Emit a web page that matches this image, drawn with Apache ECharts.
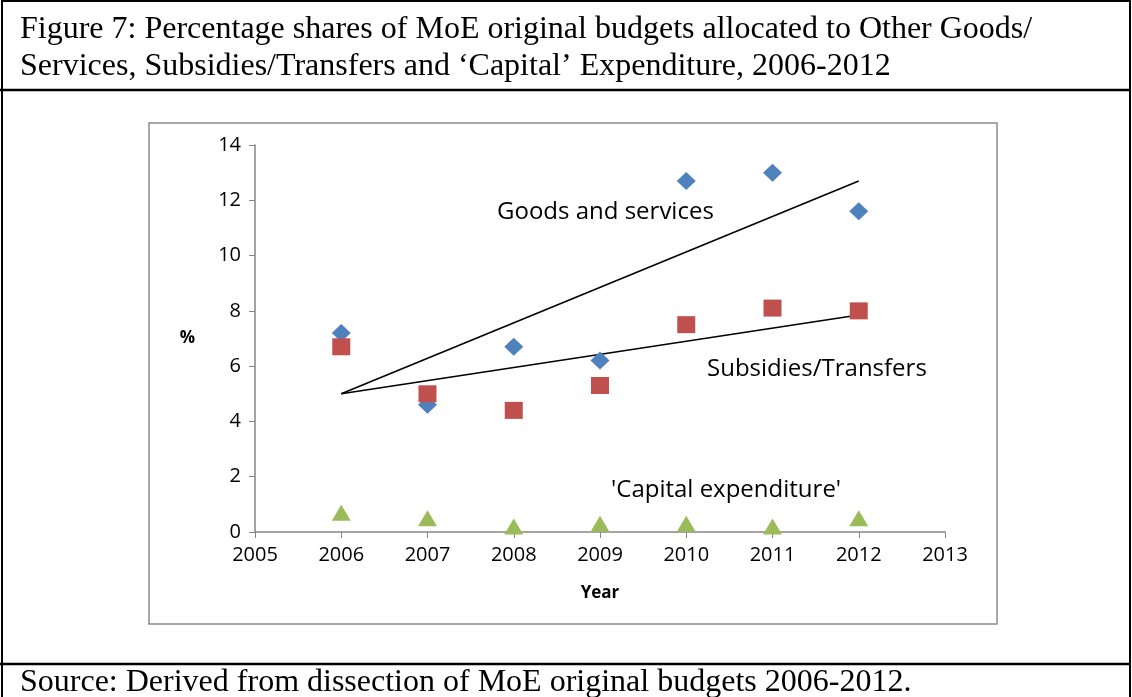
<!DOCTYPE html>
<html>
<head>
<meta charset="utf-8">
<script src="https://cdn.jsdelivr.net/npm/echarts@6/dist/echarts.min.js"></script>
<style>
html,body{margin:0;padding:0;background:#fff;}
#chart{width:1132px;height:697px;}
</style>
</head>
<body>
<div id="chart"></div>
<script>
// ---- data ----
const years = [2006, 2007, 2008, 2009, 2010, 2011, 2012];
const goodsServices = [7.2, 4.6, 6.7, 6.2, 12.7, 13.0, 11.6];
const subsidiesTransfers = [6.7, 5.0, 4.4, 5.3, 7.5, 8.1, 8.0];
const capitalExpenditure = [0.7, 0.5, 0.2, 0.3, 0.3, 0.2, 0.5];
// trend line end points as drawn in the reference
const goodsTrend = [[2006, 5.0], [2012, 12.7]];
const subsTrend = [[2006, 5.0], [2012, 7.85]];
const xTicks = [2005, 2006, 2007, 2008, 2009, 2010, 2011, 2012, 2013];
const yTicks = [0, 2, 4, 6, 8, 10, 12, 14];
const titleLines = [
  "Figure 7: Percentage shares of MoE original budgets allocated to Other Goods/",
  "Services, Subsidies/Transfers and \u2018Capital\u2019 Expenditure, 2006-2012"
];
const sourceText = "Source: Derived from dissection of MoE original budgets 2006-2012.";
const seriesLabels = ["Goods and services", "Subsidies/Transfers", "'Capital expenditure'"];

function pairs(vals) { return years.map((y, i) => [y, vals[i]]); }

const chart = echarts.init(document.getElementById('chart'), null, {renderer: 'canvas'});
const sansFont = '"Open Sans", sans-serif';
const serifFont = '"Liberation Serif", "Times New Roman", serif';

const option = {
  animation: false,
  backgroundColor: '#fff',
  grid: {left: 255, top: 145, width: 690, height: 387, containLabel: false},
  xAxis: {
    type: 'value', min: xTicks[0], max: xTicks[xTicks.length - 1], interval: 1,
    name: 'Year', nameLocation: 'middle', nameGap: 53,
    nameTextStyle: {fontFamily: sansFont, fontSize: 17, fontWeight: 'bold', color: '#000'},
    axisLine: {lineStyle: {color: '#868686', width: 1.5}},
    axisTick: {show: true, length: 6, lineStyle: {color: '#868686'}},
    axisLabel: {fontFamily: sansFont, fontSize: 20, color: '#000', margin: 13,
      formatter: v => String(v)},
    splitLine: {show: false}
  },
  yAxis: {
    type: 'value', min: yTicks[0], max: yTicks[yTicks.length - 1], interval: 2,
    name: '%', nameLocation: 'middle', nameGap: 60, nameRotate: 0,
    nameTextStyle: {fontFamily: sansFont, fontSize: 17, fontWeight: 'bold', color: '#000', padding: [6, 0, 0, 0]},
    axisLine: {show: true, lineStyle: {color: '#868686', width: 1.5}},
    axisTick: {show: true, length: 6, lineStyle: {color: '#868686'}},
    axisLabel: {fontFamily: sansFont, fontSize: 20, color: '#000', margin: 14},
    splitLine: {show: false}
  },
  series: [
    {type: 'line', data: goodsTrend, symbol: 'none', lineStyle: {color: '#000', width: 1.6}, z: 1, silent: true},
    {type: 'line', data: subsTrend, symbol: 'none', lineStyle: {color: '#000', width: 1.6}, z: 1, silent: true},
    {name: seriesLabels[0], type: 'scatter', data: pairs(goodsServices), symbol: 'diamond', symbolSize: [19, 18],
      itemStyle: {color: '#4F81BD', opacity: 1}, z: 3},
    {name: seriesLabels[1], type: 'scatter', data: pairs(subsidiesTransfers), symbol: 'rect', symbolSize: [18, 17],
      itemStyle: {color: '#C0504D', opacity: 1}, z: 3},
    {name: seriesLabels[2], type: 'scatter', data: pairs(capitalExpenditure), symbol: 'triangle', symbolSize: [19, 16],
      itemStyle: {color: '#9BBB59', opacity: 1}, z: 3}
  ],
  graphic: [
    // outer frame lines
    {type: 'line', shape: {x1: 1, y1: 1, x2: 1131, y2: 1}, style: {stroke: '#000', lineWidth: 2}},
    {type: 'line', shape: {x1: 2, y1: 0, x2: 2, y2: 697}, style: {stroke: '#000', lineWidth: 2}},
    {type: 'line', shape: {x1: 1130, y1: 0, x2: 1130, y2: 697}, style: {stroke: '#000', lineWidth: 2}},
    {type: 'line', shape: {x1: 0, y1: 90, x2: 1131, y2: 90}, style: {stroke: '#000', lineWidth: 2.5}},
    {type: 'line', shape: {x1: 0, y1: 664, x2: 1131, y2: 664}, style: {stroke: '#000', lineWidth: 2.5}},
    // inner chart-area frame
    {type: 'rect', shape: {x: 149, y: 123, width: 848, height: 501},
      style: {fill: 'none', stroke: '#8c8c8c', lineWidth: 1.5}, z: -1},
    // title & source
    {type: 'text', left: 20, top: 14, style: {text: titleLines[0], font: '32px ' + serifFont, fill: '#000'}},
    {type: 'text', left: 20, top: 51, style: {text: titleLines[1], font: '32px ' + serifFont, fill: '#000'}},
    {type: 'text', left: 20, top: 667, style: {text: sourceText, font: '32px ' + serifFont, fill: '#000'}},
    // series annotations
    {type: 'text', left: 497, top: 200, style: {text: seriesLabels[0], font: '24px ' + sansFont, fill: '#000'}},
    {type: 'text', left: 707, top: 357, style: {text: seriesLabels[1], font: '24px ' + sansFont, fill: '#000'}},
    {type: 'text', left: 611, top: 478, style: {text: seriesLabels[2], font: '24px ' + sansFont, fill: '#000'}}
  ]
};
chart.setOption(option);
</script>
</body>
</html>
